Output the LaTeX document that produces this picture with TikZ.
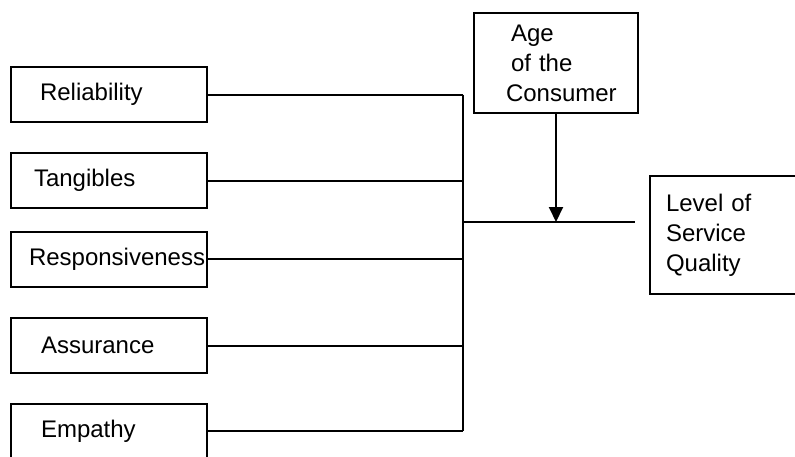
\documentclass[tikz,border=0pt]{standalone}
\usepackage{fontspec}
\setmainfont{Liberation Sans}
\usetikzlibrary{arrows.meta}
\begin{document}
\begin{tikzpicture}[x=1pt, y=-1pt, >={Triangle[length=15pt,width=14pt]}, line width=2pt,
  dim/.style={draw, anchor=west, align=left, minimum height=55pt, font=\fontsize{24}{30}\selectfont}]
  \useasboundingbox (0,0) rectangle (795,456);
  \clip (0,0) rectangle (795,456);
  \foreach \nm/\lab/\y/\pad in {rel/Reliability/94.5/29, tan/Tangibles/180.5/23, res/Responsiveness/259/18, ass/Assurance/345.5/30, emp/Empathy/431/30} {
    \pgfmathsetmacro\tw{196-2*\pad}
    \node[dim, inner xsep=\pad pt, text width=\tw pt] (\nm) at (10,\y) {\lab};
  }
  \coordinate (bus) at (463,0);
  \foreach \nm in {rel,tan,res,ass,emp} \draw (\nm.east) -- (\nm.east -| bus);
  \draw (rel.east -| bus) -- (emp.east -| bus);
  \node[dim, anchor=north west, inner xsep=32pt, text width=100pt, minimum height=100pt] (age) at (473,12) {\hspace{5pt}Age\\\hspace{5pt}of the\\Consumer};
  \node[dim, anchor=north west, inner xsep=16pt, text width=200pt, minimum height=118pt] (lsq) at (649,175) {Level of\\Service\\Quality};
  \coordinate (mid) at (463,222);
  \coordinate (end) at (635,222);
  \draw (mid) -- (end);
  \draw[->] (age) -- (age |- mid);
\end{tikzpicture}
\end{document}
